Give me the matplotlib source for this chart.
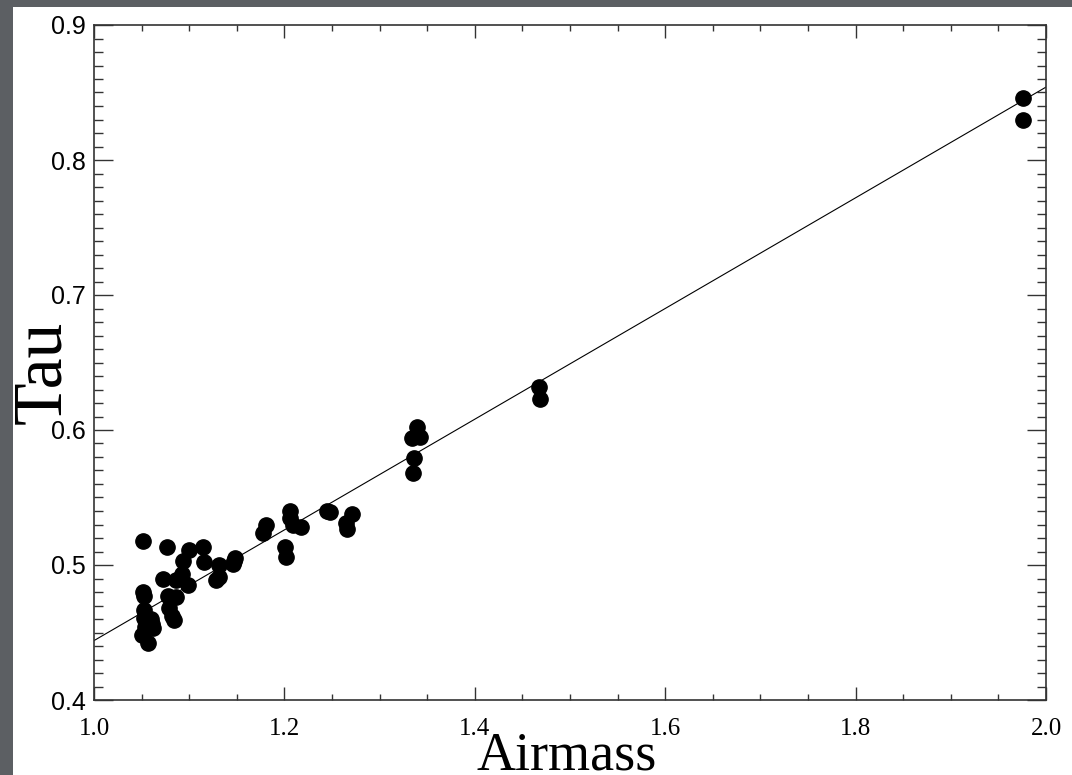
import matplotlib
matplotlib.use('Agg')
from matplotlib import pyplot as plt
from matplotlib.patches import Rectangle
from matplotlib.ticker import MultipleLocator
import numpy

AIRMASS = [1.051, 1.051, 1.052, 1.052, 1.053, 1.054, 1.050, 1.057,
           1.060, 1.061, 1.062, 1.073, 1.077, 1.078, 1.079, 1.082,
           1.086, 1.086, 1.084, 1.093, 1.092, 1.100, 1.099, 1.114,
           1.116, 1.128, 1.131, 1.131, 1.146, 1.148, 1.147, 1.178,
           1.181, 1.201, 1.202, 1.206, 1.206, 1.209, 1.217, 1.245,
           1.248, 1.265, 1.266, 1.271, 1.335, 1.336, 1.334, 1.339,
           1.342, 1.339, 1.467, 1.469, 1.976, 1.976]
TAU = [0.518, 0.480, 0.477, 0.467, 0.461, 0.454, 0.448, 0.442,
       0.460, 0.456, 0.453, 0.490, 0.513, 0.477, 0.468, 0.462,
       0.489, 0.476, 0.459, 0.503, 0.493, 0.511, 0.485, 0.513,
       0.502, 0.489, 0.491, 0.500, 0.501, 0.505, 0.503, 0.524,
       0.530, 0.513, 0.506, 0.540, 0.535, 0.530, 0.528, 0.540,
       0.539, 0.531, 0.527, 0.538, 0.568, 0.579, 0.594, 0.596,
       0.595, 0.602, 0.632, 0.623, 0.846, 0.830]

# linear fit tau = a + b * airmass
FIT_INTERCEPT = 0.034
FIT_SLOPE = 0.41

XLIM = (1.0, 2.0)
YLIM = (0.4, 0.9)

fig = plt.figure(figsize=(10.72, 7.75), dpi=100)
fig.patch.set_facecolor('#5c5f63')
fig.patches.append(Rectangle((13 / 1072., 0), 1 - 13 / 1072., 768 / 775.,
                             transform=fig.transFigure, facecolor='white',
                             edgecolor='none', zorder=-10))

ax = fig.add_axes([94 / 1072., 75 / 775., 952 / 1072., 675 / 775.])
ax.set_facecolor('white')

xs = numpy.array(XLIM)
ax.plot(xs, FIT_INTERCEPT + FIT_SLOPE * xs, '-', color='black', lw=0.8)
ax.plot(AIRMASS, TAU, 'o', color='black', markersize=11, mec='black')

ax.set_xlim(*XLIM)
ax.set_ylim(*YLIM)
ax.xaxis.set_major_locator(MultipleLocator(0.2))
ax.xaxis.set_minor_locator(MultipleLocator(0.05))
ax.yaxis.set_major_locator(MultipleLocator(0.1))
ax.yaxis.set_minor_locator(MultipleLocator(0.01))
ax.xaxis.set_major_formatter(plt.FormatStrFormatter('%.1f'))
ax.yaxis.set_major_formatter(plt.FormatStrFormatter('%.1f'))

for s in ax.spines.values():
    s.set_color('#333333')
    s.set_linewidth(1.2)

ax.tick_params(axis='both', which='both', direction='in', top=True,
               right=True, color='#333333', width=1.0)
ax.tick_params(axis='x', which='major', length=9.5, pad=13)
ax.tick_params(axis='x', which='minor', length=4.5)
ax.tick_params(axis='y', which='major', length=13.7, pad=6)
ax.tick_params(axis='y', which='minor', length=6.5)

for lab in ax.get_xticklabels():
    lab.set_family('Liberation Serif')
    lab.set_fontsize(18)
for lab in ax.get_yticklabels():
    lab.set_family('Liberation Sans')
    lab.set_fontsize(18)

fig.text(567 / 1072., 1 - 770 / 775., 'Airmass', family='Liberation Serif',
         fontsize=39, ha='center', va='baseline')
fig.text(43 / 1072., 1 - 372 / 775., 'Tau', family='Liberation Serif',
         fontsize=50, rotation=90, ha='center', va='center')

fig.savefig('out.png', dpi=100, facecolor=fig.get_facecolor())
